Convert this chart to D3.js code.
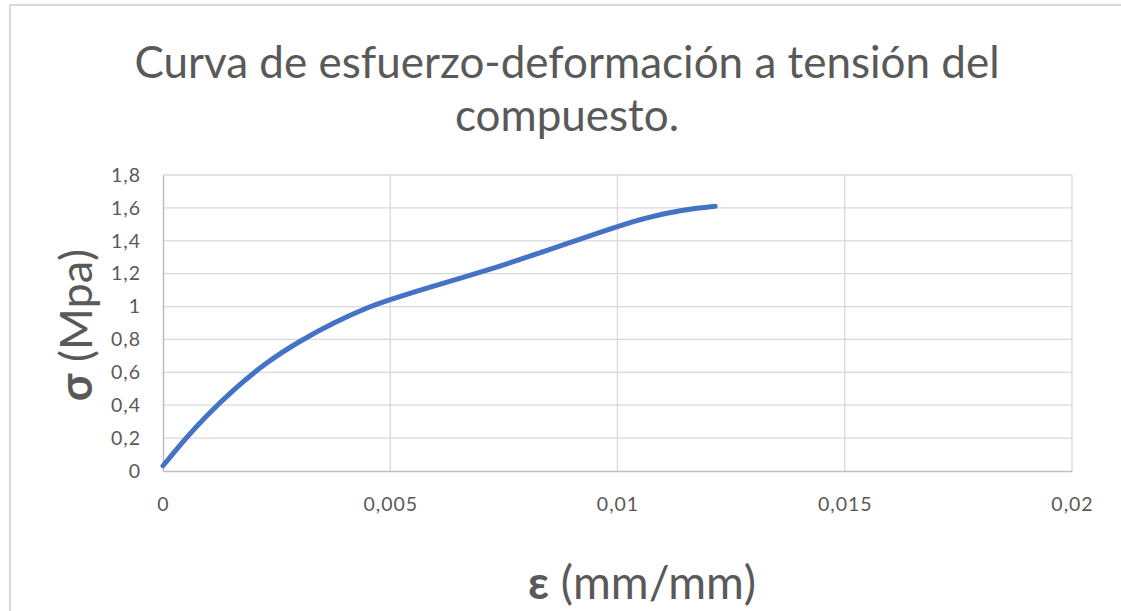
<!DOCTYPE html>
<html>
<head>
<meta charset="utf-8">
<script src="https://cdn.jsdelivr.net/npm/d3@7"></script>
<style>
  html, body { margin: 0; padding: 0; background: #fff; }
  svg { display: block; font-family: Lato, "Open Sans", sans-serif; }
</style>
</head>
<body>
<svg id="chart" width="1121" height="611"></svg>
<script>
// Stress-strain curve of the composite (tension test)
const strain = [0, 0.0005, 0.00097, 0.00156, 0.00229, 0.00302, 0.00376, 0.00449, 0.005,
                0.00559, 0.00625, 0.007, 0.00771, 0.0085, 0.00918, 0.01, 0.01065, 0.01138, 0.01215];
const stress = [0.032, 0.197, 0.338, 0.494, 0.658, 0.789, 0.9, 0.991, 1.042,
                1.094, 1.149, 1.211, 1.273, 1.346, 1.41, 1.486, 1.539, 1.583, 1.61];
const xTicks = [0, 0.005, 0.01, 0.015, 0.02];
const yTicks = [0, 0.2, 0.4, 0.6, 0.8, 1, 1.2, 1.4, 1.6, 1.8];
const titleLines = ["Curva de esfuerzo-deformación a tensión del", "compuesto."];

const svg = d3.select("#chart");
const W = 1121, H = 611;
const plot = { left: 163, right: 1072, top: 175, bottom: 471 };

// chart frame
svg.append("path")
  .attr("d", `M10,${H} V5 H${W}`)
  .attr("fill", "none").attr("stroke", "#d9d9d9").attr("stroke-width", 2);

const x = d3.scaleLinear().domain([0, 0.02]).range([plot.left, plot.right]);
const y = d3.scaleLinear().domain([0, 1.8]).range([plot.bottom, plot.top]);

const fmt = v => String(+v.toFixed(4)).replace(".", ",");

// gridlines
svg.append("g").selectAll("line").data(yTicks.slice(1)).join("line")
  .attr("x1", plot.left).attr("x2", plot.right)
  .attr("y1", d => y(d)).attr("y2", d => y(d))
  .attr("stroke", "#d9d9d9").attr("stroke-width", 1.3);
svg.append("g").selectAll("line").data(xTicks.slice(1)).join("line")
  .attr("x1", d => x(d)).attr("x2", d => x(d))
  .attr("y1", plot.top).attr("y2", plot.bottom)
  .attr("stroke", "#d9d9d9").attr("stroke-width", 1.3);

// axes
const tickStyle = sel => sel.selectAll("text")
  .attr("fill", "#595959").style("font-size", "19.5px")
  .style("letter-spacing", "1px").style("font-family", "Lato, sans-serif");

const xAxis = svg.append("g").attr("transform", `translate(0,${plot.bottom})`)
  .call(d3.axisBottom(x).tickValues(xTicks).tickFormat(fmt).tickSize(0).tickPadding(26));
xAxis.select(".domain").attr("stroke", "#bfbfbf").attr("stroke-width", 1.5);
tickStyle(xAxis);

const yAxis = svg.append("g").attr("transform", `translate(${plot.left},0)`)
  .call(d3.axisLeft(y).tickValues(yTicks).tickFormat(fmt).tickSize(0).tickPadding(22));
yAxis.select(".domain").attr("stroke", "#bfbfbf").attr("stroke-width", 1.5);
tickStyle(yAxis);

// curve (smooth spline through the measured points)
const line = d3.line().x((d, i) => x(strain[i])).y(d => y(d)).curve(d3.curveNatural);
svg.append("path").datum(stress)
  .attr("d", line)
  .attr("fill", "none").attr("stroke", "#4472c4").attr("stroke-width", 5)
  .attr("stroke-linecap", "round").attr("stroke-linejoin", "round");

// title
svg.append("g").selectAll("text").data(titleLines).join("text")
  .attr("x", 567).attr("y", (d, i) => 78 + i * 53)
  .attr("text-anchor", "middle").attr("fill", "#595959")
  .style("font-size", "44px").text(d => d);

// axis titles
const xt = svg.append("text").attr("x", 642).attr("y", 599)
  .attr("text-anchor", "middle").attr("fill", "#595959").style("font-size", "46px");
xt.append("tspan").attr("font-weight", "bold").text("ε");
xt.append("tspan").text(" (mm/mm)");

const yt = svg.append("text").attr("transform", "translate(92,325) rotate(-90)")
  .attr("text-anchor", "middle").attr("fill", "#595959").style("font-size", "45px");
yt.append("tspan").attr("font-weight", "bold").text("σ");
yt.append("tspan").text(" (Mpa)");
</script>
</body>
</html>
